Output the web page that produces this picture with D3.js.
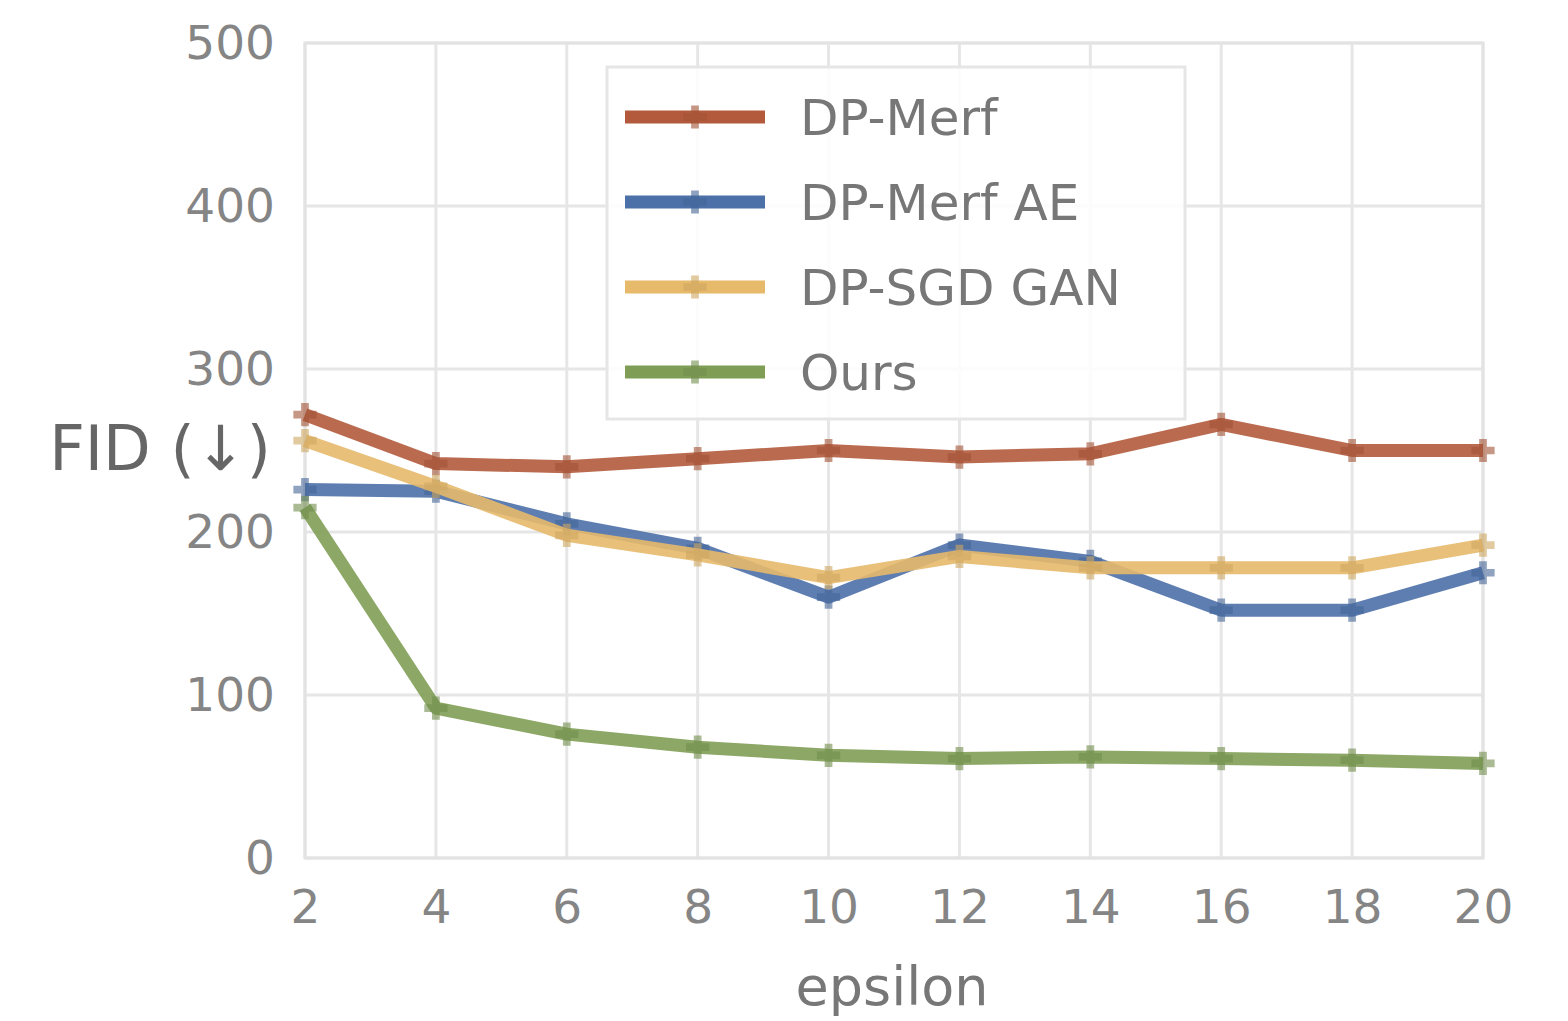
<!DOCTYPE html>
<html><head><meta charset="utf-8">
<script src="https://cdn.jsdelivr.net/npm/d3@7"></script>
<style>body{margin:0;background:#fff}</style>
</head><body>
<svg id="c" width="1568" height="1021"></svg>
<script>
const epsilons = [2,4,6,8,10,12,14,16,18,20];
const dpMerf   = [272,242,240,245,250,246,248,266,250,250];
const dpMerfAE = [226,225,205,190,160,192,182,152,152,175];
const dpSgdGan = [256,228,198,186,172,185,178,178,178,192];
const ours     = [215, 92, 76, 68, 63, 61, 62, 61, 60, 58];
const seriesNames = ["DP-Merf","DP-Merf AE","DP-SGD GAN","Ours"];
const seriesColors = ["#b35a3c","#4c70a8","#e6b96b","#7f9d55"];
const yTicks = [0,100,200,300,400,500];
const xTicks = [2,4,6,8,10,12,14,16,18,20];
const series = [dpMerf, dpMerfAE, dpSgdGan, ours];

const svg = d3.select("#c");
const L=305,R=1483,T=43,B=858;
const x = d3.scaleLinear().domain([2,20]).range([L,R]);
const y = d3.scaleLinear().domain([0,500]).range([B,T]);

const g = svg.append("g");
g.selectAll(".gx").data(xTicks).join("line")
 .attr("x1",d=>x(d)).attr("x2",d=>x(d)).attr("y1",T).attr("y2",B)
 .attr("stroke","#e6e6e6").attr("stroke-width",3);
g.selectAll(".gy").data(yTicks).join("line")
 .attr("x1",L).attr("x2",R).attr("y1",d=>y(d)).attr("y2",d=>y(d))
 .attr("stroke","#e6e6e6").attr("stroke-width",3);
g.append("rect").attr("x",L).attr("y",T).attr("width",R-L).attr("height",B-T)
 .attr("fill","none").attr("stroke","#e3e3e3").attr("stroke-width",3);

const xa = svg.append("g").attr("transform",`translate(0,${B})`)
 .call(d3.axisBottom(x).tickValues(xTicks).tickSize(0).tickPadding(32));
const ya = svg.append("g").attr("transform",`translate(${L},0)`)
 .call(d3.axisLeft(y).tickValues(yTicks).tickSize(0).tickPadding(30));
[xa,ya].forEach(a=>{a.select(".domain").remove();
 a.selectAll("text").attr("font-family","DejaVu Sans").attr("font-size",47).attr("fill","#858585");});

svg.append("text").attr("x",892).attr("y",1005).attr("text-anchor","middle")
 .attr("font-family","DejaVu Sans").attr("font-size",54).attr("fill","#777").text("epsilon");
svg.append("text").attr("x",160).attr("y",470).attr("text-anchor","middle")
 .attr("font-family","DejaVu Sans").attr("font-size",62).attr("fill","#666").text("FID (↓)");

const line = d3.line().x((d,i)=>x(epsilons[i])).y(d=>y(d));
series.forEach((s,k)=>{
  svg.append("path").datum(s).attr("d",line).attr("fill","none")
   .attr("stroke",seriesColors[k]).attr("stroke-width",13).attr("stroke-opacity",0.9)
   .attr("stroke-linejoin","round");
  svg.selectAll(null).data(s).join("path")
   .attr("transform",(d,i)=>`translate(${x(epsilons[i])},${y(d)})`)
   .attr("d",d3.symbol(d3.symbolCross,300)())
   .attr("fill",d3.color(seriesColors[k]).darker(0.3)).attr("opacity",0.6);
});

const lg = svg.append("g");
lg.append("rect").attr("x",607).attr("y",67).attr("width",578).attr("height",352)
 .attr("fill","#fff").attr("fill-opacity",0.85).attr("stroke","#e6e6e6").attr("stroke-width",3);
seriesNames.forEach((n,k)=>{
  const yy = 117 + k*85;
  lg.append("line").attr("x1",625).attr("x2",765).attr("y1",yy).attr("y2",yy)
   .attr("stroke",seriesColors[k]).attr("stroke-width",13);
  lg.append("path").attr("transform",`translate(695,${yy})`)
   .attr("d",d3.symbol(d3.symbolCross,300)()).attr("fill",d3.color(seriesColors[k]).darker(0.3)).attr("opacity",0.6);
  lg.append("text").attr("x",800).attr("y",yy+18).attr("font-family","DejaVu Sans")
   .attr("font-size",50).attr("fill","#777").text(n);
});
</script>
</body></html>
